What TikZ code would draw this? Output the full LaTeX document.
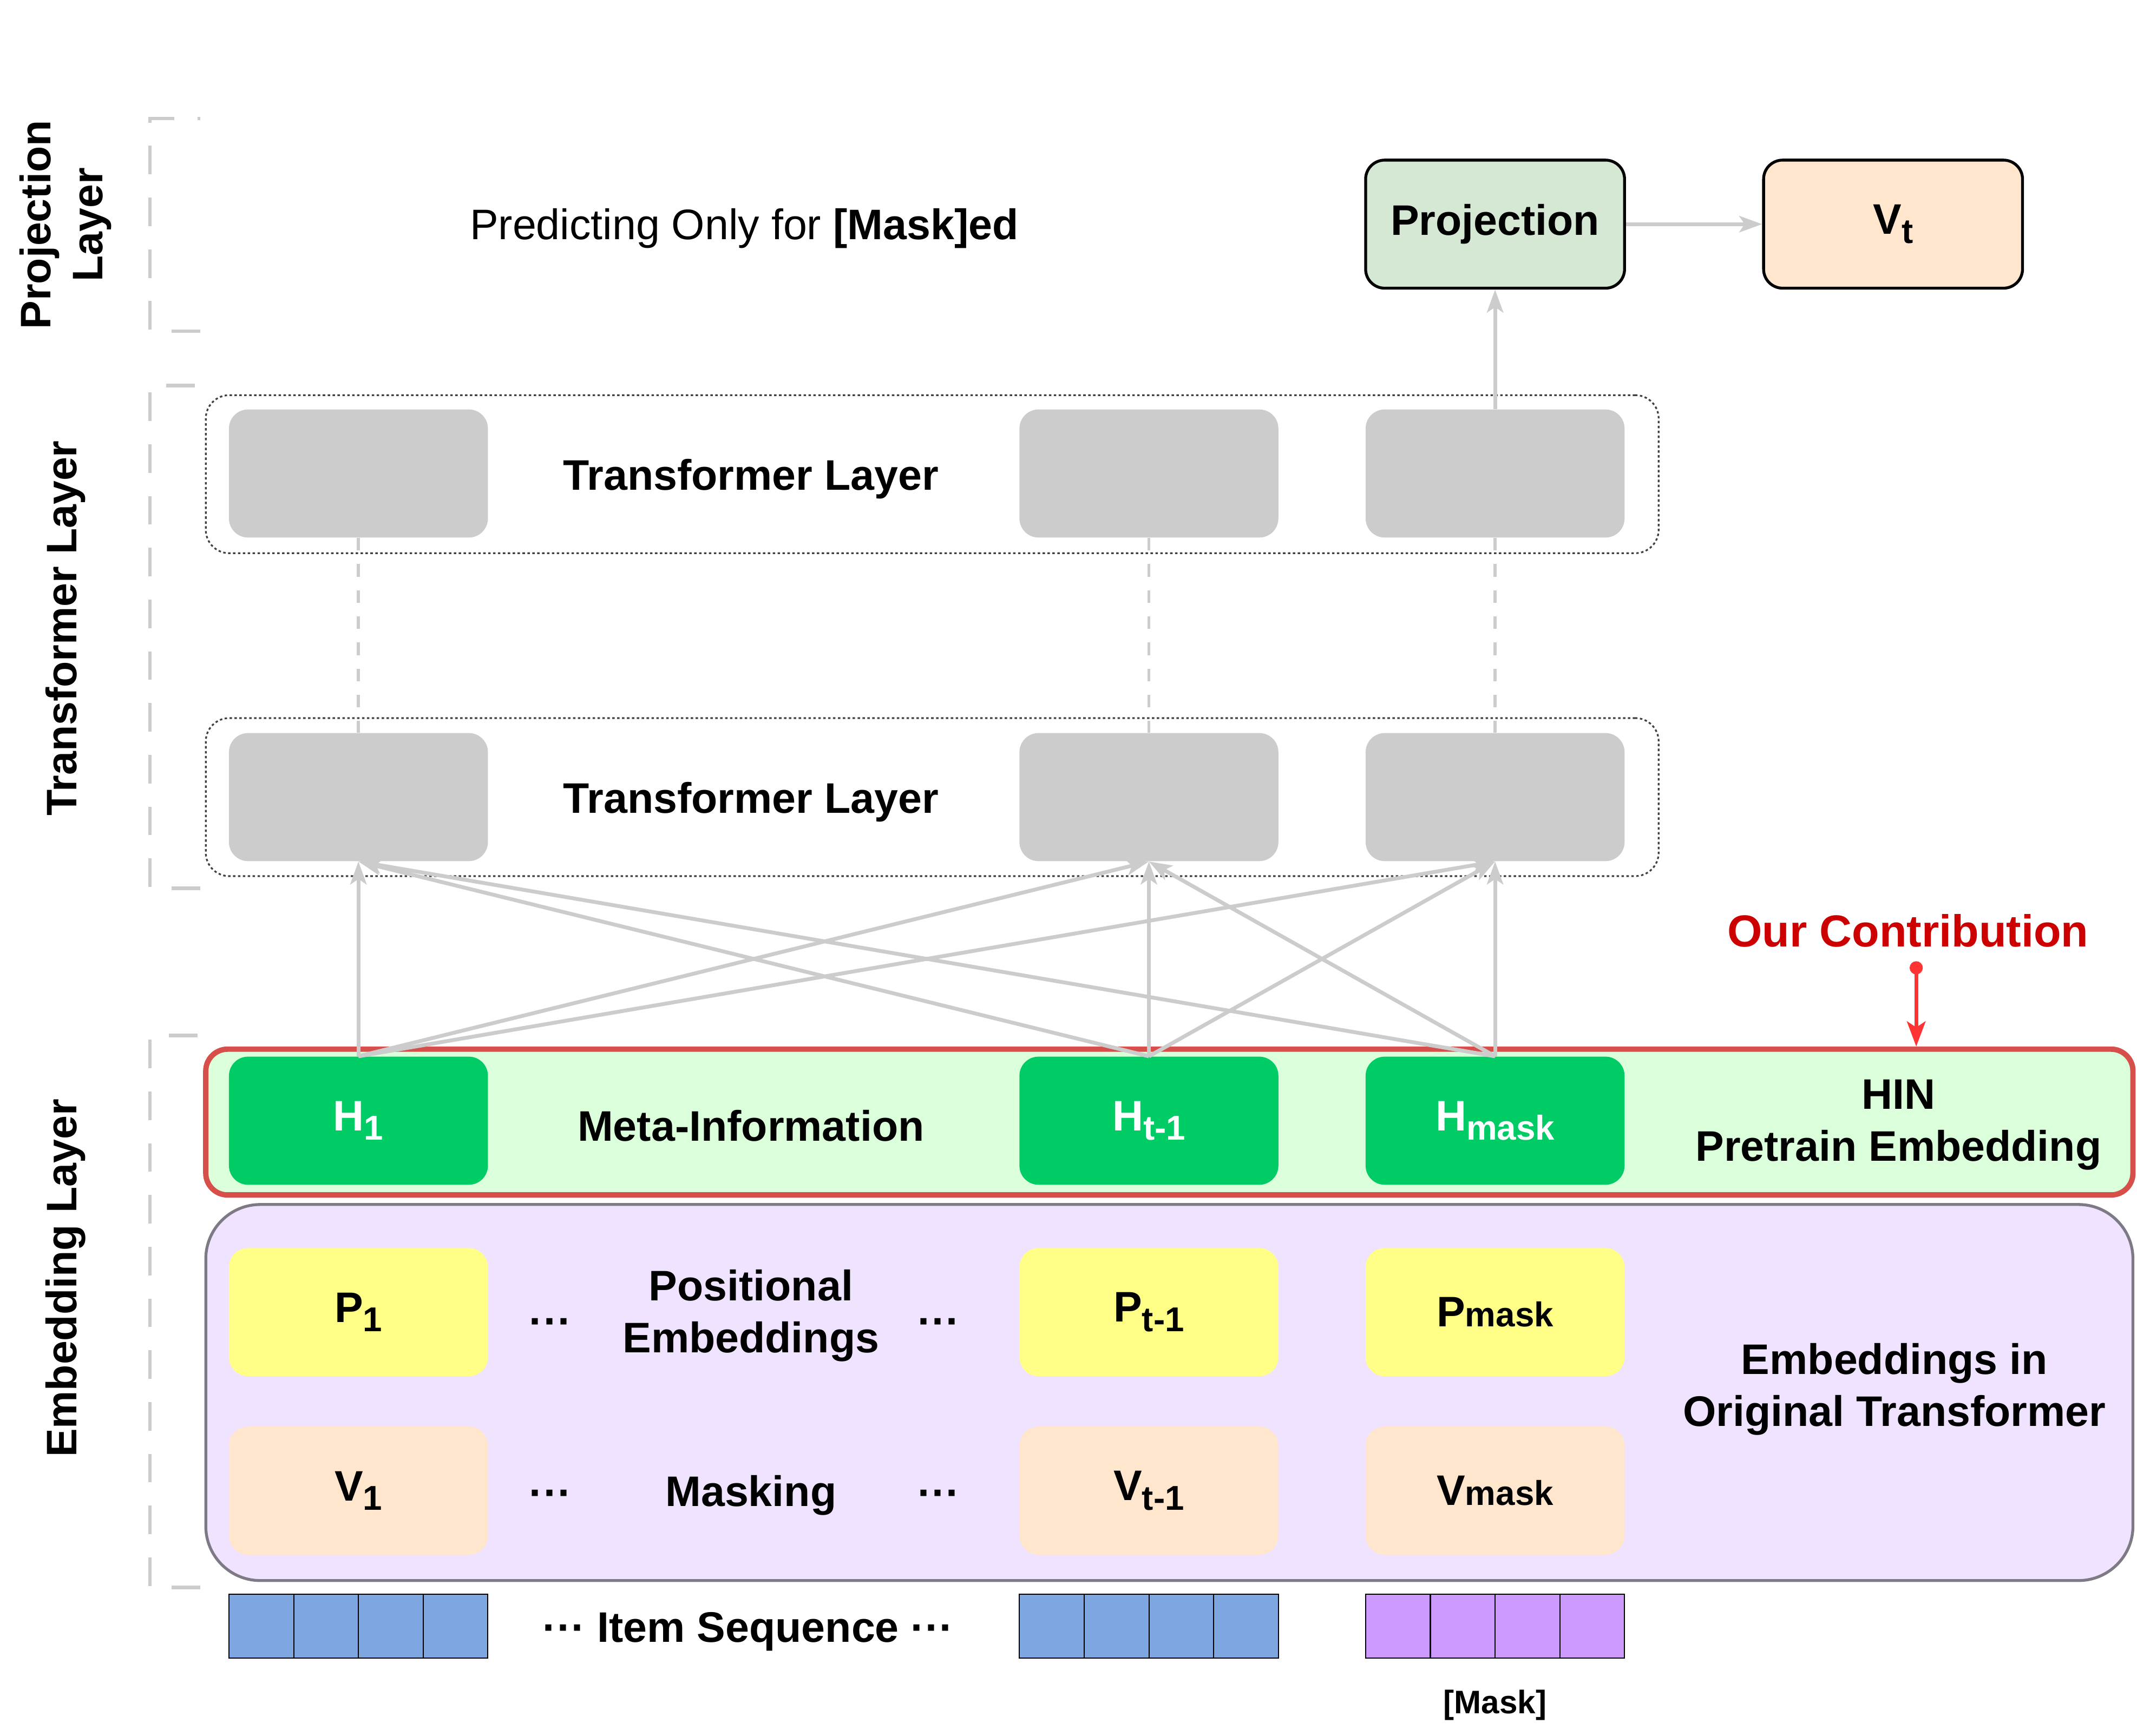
\documentclass[tikz,border=0pt]{standalone}
\usepackage{fontspec}
\setmainfont{Liberation Sans}
\usetikzlibrary{arrows.meta}

\definecolor{boxgray}{HTML}{CCCCCC}
\definecolor{projgreen}{HTML}{D5E8D4}
\definecolor{peach}{HTML}{FFE6CC}
\definecolor{hgreen}{HTML}{00CC66}
\definecolor{hinfill}{HTML}{DAFFDA}
\definecolor{hinred}{HTML}{D64F4B}
\definecolor{contribred}{HTML}{CC0000}
\definecolor{arrowred}{HTML}{FF3333}
\definecolor{lilac}{HTML}{F0E3FF}
\definecolor{lilacedge}{HTML}{7D7985}
\definecolor{posyellow}{HTML}{FFFF88}
\definecolor{itemblue}{HTML}{7EA6E0}
\definecolor{maskpurple}{HTML}{CC99FF}

\newcommand{\lab}{\fontsize{22.3}{27}\selectfont\bfseries}
\newcommand{\lsub}[1]{\raisebox{-0.22em}{\fontsize{18}{18}\selectfont #1}}
\newcommand{\bsub}[1]{{\fontsize{18}{18}\selectfont #1}}

\tikzset{
  cell/.style={rounded corners=3.5mm, minimum width=47.5mm, minimum height=23.5mm, inner sep=0pt, font=\lab},
  tbox/.style={cell, fill=boxgray},
  hbox/.style={cell, fill=hgreen, text=white},
  pbox/.style={cell, fill=posyellow},
  vbox/.style={cell, fill=peach},
  link/.style={draw=boxgray, line width=2pt, -{Stealth[length=4.2mm,width=3mm,inset=1mm]}},
  dashlink/.style={draw=boxgray, line width=1.6pt, dash pattern=on 2.3mm off 2.5mm},
  bracket/.style={draw=boxgray, line width=1.8pt, dash pattern=on 5.25mm off 4.25mm},
  layerbox/.style={draw=black!75, line width=0.9pt, dash pattern=on 0.45mm off 0.45mm, rounded corners=4.3mm, minimum width=266.5mm, minimum height=29mm},
  seqcell/.style={draw=black, line width=0.6pt},
  txt/.style={font=\lab, align=center},
}

\begin{document}
\begin{tikzpicture}[x=0.25mm, y=-0.25mm]
	\useasboundingbox (0,0) rectangle (1568,1274);
	
	% layer brackets on the left
	\draw[bracket] (147,243) -- (110,243) -- (110,87) -- (147,87);
	\draw[bracket] (147,652) -- (110,652) -- (110,283) -- (147,283);
	\draw[bracket] (147,1165) -- (110,1165) -- (110,760) -- (147,760);
	\node[txt, rotate=90] (projname) at (48,165) {Projection\\Layer};
	\node[txt, rotate=90] (transname) at (48,461) {Transformer Layer};
	\node[txt, rotate=90] (embname) at (48,938) {Embedding Layer};
	
	% projection layer
	\node[txt, font=\fontsize{22.3}{27}\selectfont] (predict) at (546,167.5) {Predicting Only for \textbf{[Mask]ed}};
	\node[cell, fill=projgreen, draw=black, line width=1.5pt] (proj) at (1097,164.5) {Projection};
	\node[cell, fill=peach, draw=black, line width=1.5pt] (vout) at (1389,164.5) {V\lsub{t}};
	
	% transformer layers
	\node[layerbox] (upper) at (684,348) {};
	\node[layerbox] (lower) at (684,585) {};
	\node[tbox] (tu1) at (263,347.5) {};
	\node[tbox] (tut) at (843,347.5) {};
	\node[tbox] (tum) at (1097,347.5) {};
	\node[txt] (uppername) at (551,351.5) {Transformer Layer};
	\node[tbox] (tl1) at (263,585) {};
	\node[tbox] (tlt) at (843,585) {};
	\node[tbox] (tlm) at (1097,585) {};
	\node[txt] (lowername) at (551,588.5) {Transformer Layer};
	
	% embedding layer
	\node[draw=hinred, fill=hinfill, line width=2.8pt, rounded corners=4mm, minimum width=353.5mm, minimum height=26.75mm] (hin) at (858,823.5) {};
	\node[draw=lilacedge, fill=lilac, line width=1.5pt, rounded corners=10mm, minimum width=353.5mm, minimum height=69mm] (orig) at (858,1022) {};
	
	\node[hbox] (h1) at (263,822.5) {H\lsub{1}};
	\node[hbox] (ht) at (843,822.5) {H\lsub{t-1}};
	\node[hbox] (hm) at (1097,822.5) {H\lsub{mask}};
	\node[txt] (meta) at (551,826) {Meta-Information};
	\node[txt] (hinname) at (1393,825.5) {HIN\\Pretrain Embedding};
	
	\node[pbox] (p1) at (263,963) {P\lsub{1}};
	\node[pbox] (pt) at (843,963) {P\lsub{t-1}};
	\node[pbox] (pm) at (1097,963) {P\bsub{mask}};
	\node[vbox] (v1) at (263,1094) {V\lsub{1}};
	\node[vbox] (vt) at (843,1094) {V\lsub{t-1}};
	\node[vbox] (vm) at (1097,1094) {V\bsub{mask}};
	\node[txt] (posname) at (551,965.5) {Positional\\Embeddings};
	\node[txt] (maskname) at (551,1097.5) {Masking};
	\node[txt] (origname) at (1390,1019.5) {Embeddings in\\Original Transformer};
	\node[txt] (dotpa) at (404,974) {···};
	\node[txt] (dotpb) at (689,974) {···};
	\node[txt] (dotva) at (404,1100) {···};
	\node[txt] (dotvb) at (689,1100) {···};
	
	% item sequence
	\foreach \x in {168,748}
		\foreach \i in {0,...,3}
			\draw[seqcell, fill=itemblue] ({\x+\i*47.5},1170) rectangle ++(47.5,47);
	\foreach \i in {0,...,3}
		\draw[seqcell, fill=maskpurple] ({1002+\i*47.5},1170) rectangle ++(47.5,47);
	\node[txt] (seqname) at (549,1197.5) {··· Item Sequence ···};
	\node[font=\fontsize{17}{20}\selectfont\bfseries] (maskitem) at (1097,1251.5) {[Mask]};
	
	% connections
	\foreach \a in {h1,ht,hm}
		\foreach \b in {tl1,tlt,tlm}
			\draw[link] (\a.north) -- (\b.south);
	\foreach \c in {1,t,m}
		\draw[dashlink] (tu\c.south) -- (tl\c.north);
	\draw[link] (tum.north) -- (proj.south);
	\draw[link] (proj.east) -- (vout.west);
	
	% our contribution
	\node[txt, text=contribred, font=\fontsize{23.4}{27}\selectfont\bfseries] (contrib) at (1400,683) {Our Contribution};
	\coordinate (ocdot) at (1406,705.5);
	\draw[draw=arrowred, line width=2pt, {Circle[length=2.4mm]}-{Stealth[length=4.6mm,width=3.4mm,inset=1.1mm]}] (ocdot) -- (ocdot |- hin.north);
\end{tikzpicture}
\end{document}
